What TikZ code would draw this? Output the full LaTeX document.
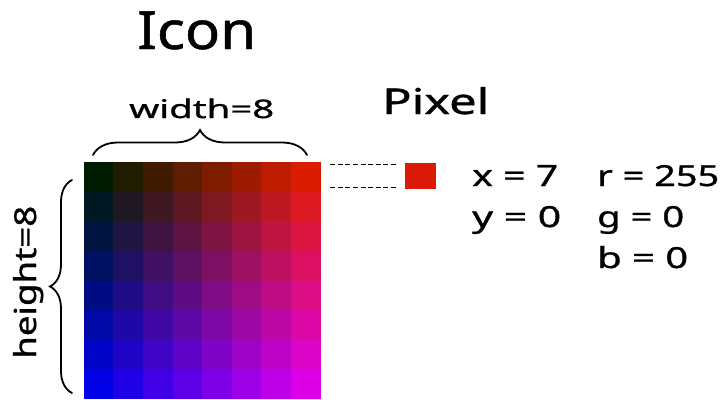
\documentclass[tikz,border=0pt]{standalone}
\usepackage{fontspec}
\setmainfont{Noto Sans}[FakeBold=0.9]
\usetikzlibrary{decorations.pathreplacing}

% set a label into a box of given width and height (in pt)
\newcommand{\sizedlabel}[3]{\resizebox{#1pt}{#2pt}{#3}}

\tikzset{
  cellbox/.style={rectangle, inner sep=0pt, minimum size=30pt, draw=none},
  txt/.style={anchor=base west, inner sep=0pt, text=black},
  bracestyle/.style={decorate, decoration={brace, amplitude=25pt}, line width=1.8pt, line cap=round},
  dashstyle/.style={line width=1.1pt, dash pattern=on 5pt off 2.6pt},
}

\begin{document}
\begin{tikzpicture}[x=1pt, y=-1pt]
  \useasboundingbox (0,0) rectangle (722,399);

  % 8x8 colour grid: red grows to the right, blue grows downwards
  \foreach \c in {0,...,7}{
    \foreach \r in {0,...,7}{
      \pgfmathtruncatemacro{\rr}{31.5*\c}
      \pgfmathtruncatemacro{\gg}{max(0,28-4*\r)}
      \pgfmathtruncatemacro{\bb}{min(255,33*\r)}
      \definecolor{cellc}{RGB}{\rr,\gg,\bb}
      \node[cellbox, fill=cellc] (c-\c-\r) at ({84+29.6*\c+14.8},{162.3+29.6*\r+14.8}) {};
    }
  }

  % title and labels
  \node[txt] (title) at (137,49) {\sizedlabel{119}{37.5}{Icon}};
  \node[txt] (pixtitle) at (382,114) {\sizedlabel{107}{27}{Pixel}};
  \node[txt] (wlabel) at (129,118) {\sizedlabel{145}{19.5}{width=8}};
  \node[txt, rotate=90] (hlabel) at (36,359) {\sizedlabel{153}{23}{height=8}};

  % braces along the top and the left side of the grid
  \coordinate (tb1) at (93,155);
  \coordinate (tb2) at (307,155);
  \draw[bracestyle] (tb1) -- (tb2);
  \coordinate (lb1) at (72,393);
  \coordinate (lb2) at (72,180);
  \draw[bracestyle, decoration={amplitude=22pt}] (lb1) -- (lb2);

  % the selected pixel
  \definecolor{pixred}{RGB}{218,26,6}
  \node[rectangle, fill=pixred, inner sep=0pt, minimum width=31pt, minimum height=26pt] (pix) at (420.5,176) {};

  % dashed guides from the top-right cell to the pixel
  \coordinate (d1s) at ([shift={(9,3)}]c-7-0.north east);
  \coordinate (d1e) at ([xshift=-8pt]d1s -| pix.west);
  \coordinate (d2s) at ([shift={(9,-5)}]c-7-0.south east);
  \coordinate (d2e) at ([xshift=-8pt]d2s -| pix.west);
  \draw[dashstyle] (d1s) -- (d1e);
  \draw[dashstyle] (d2s) -- (d2e);

  % pixel values
  \node[txt] (vx) at (472,186) {\sizedlabel{86}{21}{x = 7}};
  \node[txt] (vy) at (472,227) {\sizedlabel{89}{21}{y = 0}};
  \node[txt] (vr) at (597,186) {\sizedlabel{122}{21}{r = 255}};
  \node[txt] (vg) at (597,227) {\sizedlabel{87}{21}{g = 0}};
  \node[txt] (vb) at (597,268) {\sizedlabel{91}{22}{b = 0}};
\end{tikzpicture}
\end{document}
